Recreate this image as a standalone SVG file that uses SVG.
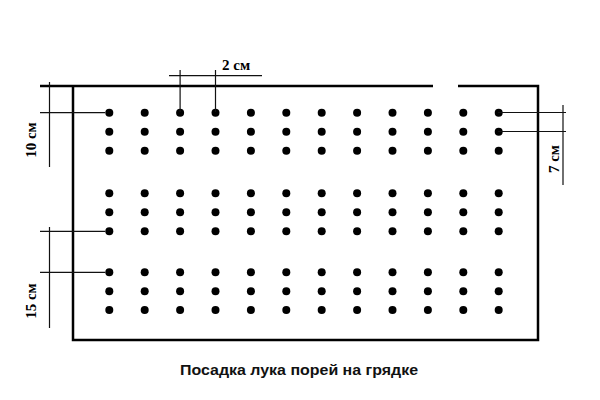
<svg xmlns="http://www.w3.org/2000/svg" width="600" height="400" viewBox="0 0 600 400">
<style>
.border{stroke:#000;stroke-width:2.5;fill:none}
.dim{stroke:#111;stroke-width:1.2;fill:none}
.dot{fill:#000}
.lbl{font-family:"Liberation Serif","Times New Roman",serif;font-size:15px;font-weight:bold;fill:#000}
.cap{font-family:"Liberation Sans",Arial,sans-serif;font-size:14.5px;font-weight:bold;fill:#111}
</style>
<defs>
<circle id="d" r="4" class="dot"/>
<g id="col">
<use href="#d" y="112.7"/><use href="#d" y="131.7"/><use href="#d" y="150.7"/>
<use href="#d" y="193.3"/><use href="#d" y="212.3"/><use href="#d" y="231.3"/>
<use href="#d" y="272.3"/><use href="#d" y="291.2"/><use href="#d" y="310"/>
</g>
</defs>
<rect width="600" height="400" fill="#fff"/>
<g id="bed">
<path class="border" d="M40,86 H433 M458,86 H538 V340 H73 V86"/>
</g>
<g id="plants">
<use href="#col" x="109.3"/><use href="#col" x="144.7"/><use href="#col" x="180.1"/>
<use href="#col" x="215.5"/><use href="#col" x="250.9"/><use href="#col" x="286.3"/>
<use href="#col" x="321.7"/><use href="#col" x="357.1"/><use href="#col" x="392.5"/>
<use href="#col" x="427.9"/><use href="#col" x="463.3"/><use href="#col" x="498.7"/>
</g>
<g id="connectors">
<path class="dim" d="M49.5,82 V167 M40,112.7 H105"/>
<path class="dim" d="M169,75.7 H262 M180.1,70 V112 M215.5,70 V112"/>
<path class="dim" d="M498,112.5 H566 M498,131.5 H566 M563,105 V185"/>
<path class="dim" d="M49.5,227 V328 M40,231.3 H105 M40,272.3 H105"/>
</g>
<g id="label-10">
<text class="lbl" transform="translate(36,140) rotate(-90)" text-anchor="middle">10 см</text>
</g>
<g id="label-2">
<text class="lbl" x="222" y="70">2 см</text>
</g>
<g id="label-7">
<text class="lbl" transform="translate(559,159) rotate(-90)" text-anchor="middle">7 см</text>
</g>
<g id="label-15">
<text class="lbl" transform="translate(36,301) rotate(-90)" text-anchor="middle">15 см</text>
</g>
<g id="caption">
<text class="cap" x="180" y="375" textLength="238" lengthAdjust="spacingAndGlyphs">Посадка лука порей на грядке</text>
</g>
</svg>
